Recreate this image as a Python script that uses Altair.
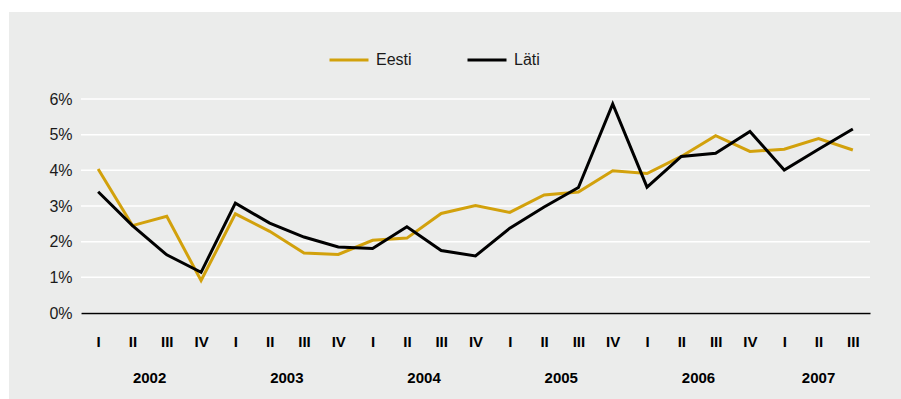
import json
import altair as alt
import pandas as pd

years = ["2002", "2003", "2004", "2005", "2006", "2007"]
quarter_names = ["I", "II", "III", "IV"]
periods = [(y, q) for y in years for q in quarter_names][:23]  # up to 2007 III

eesti = [4.04, 2.45, 2.71, 0.91,
         2.78, 2.29, 1.68, 1.64,
         2.04, 2.10, 2.79, 3.01,
         2.82, 3.31, 3.39, 3.99,
         3.91, 4.39, 4.97, 4.53,
         4.59, 4.89, 4.57]
lati = [3.40, 2.45, 1.63, 1.14,
        3.08, 2.52, 2.13, 1.85,
        1.81, 2.42, 1.75, 1.60,
        2.38, 2.97, 3.52, 5.86,
        3.53, 4.39, 4.48, 5.09,
        4.01, 4.59, 5.16]
series_names = ["Eesti", "Läti"]
series_colors = ["#d2a10c", "#000000"]
y_ticks = [0, 1, 2, 3, 4, 5, 6]

rows = []
for name, vals in zip(series_names, [eesti, lati]):
    for i, ((yr, q), v) in enumerate(zip(periods, vals)):
        rows.append({"idx": i, "year": yr, "quarter": q, "value": v, "series": name})
df = pd.DataFrame(rows)
year_df = df[df["series"] == series_names[0]][["idx", "year"]]
grid_df = pd.DataFrame({"tick": y_ticks})

tick_labels = [q for _, q in periods]
label_expr = json.dumps(tick_labels) + "[datum.value]"

FONT = "Liberation Sans"
W, H = 789, 214
BG = "#ebeceb"

xscale = alt.Scale(domain=[-0.5, len(periods) - 0.5], nice=False, zero=False)
yscale = alt.Scale(domain=[0, 6], nice=False)

x_axis = alt.Axis(values=list(range(len(periods))), labelExpr=label_expr,
                  grid=False, ticks=False, domain=True, domainColor="#000000",
                  domainWidth=1.3, labelFont=FONT, labelFontSize=15,
                  labelFontWeight="bold", labelColor="#000000",
                  labelPadding=21, labelFlush=False, labelOverlap=False,
                  labelBound=False, title=None, zindex=1)
y_axis = alt.Axis(values=y_ticks, labelExpr="datum.value + '%'",
                  grid=False, domain=False, ticks=False, labelFont=FONT,
                  labelFontSize=16, labelColor="#1a1a1a", labelPadding=9,
                  labelOverlap=False, labelFlush=False, title=None, zindex=1)

background = alt.Chart(alt.Data(values=[{}])).mark_rect(fill=BG).encode(
    x=alt.value(-72), x2=alt.value(W + 31),
    y=alt.value(-87), y2=alt.value(H + 86),
)

grid = alt.Chart(grid_df).mark_rule(color="#ffffff", strokeWidth=1.5).encode(
    y=alt.Y("tick:Q", scale=yscale, axis=y_axis),
)

lines = alt.Chart(df).mark_line(strokeWidth=3, strokeJoin="miter").encode(
    x=alt.X("idx:Q", scale=xscale, axis=x_axis),
    y=alt.Y("value:Q", scale=yscale, axis=y_axis),
    color=alt.Color("series:N",
                    scale=alt.Scale(domain=series_names, range=series_colors),
                    legend=alt.Legend(title=None, orient="none", direction="horizontal",
                                      legendX=247, legendY=-60, symbolType="stroke",
                                      symbolSize=1521, symbolStrokeWidth=3,
                                      labelFont=FONT, labelFontSize=16,
                                      labelColor="#1a1a1a", labelOffset=6,
                                      columnPadding=49, padding=0)),
    order="idx:Q",
)

year_text = alt.Chart(year_df).mark_text(
    font=FONT, fontSize=15, fontWeight="bold", color="#000000", baseline="middle"
).encode(
    x=alt.X("mean(idx):Q", scale=xscale, axis=x_axis),
    y=alt.value(H + 65),
    text="year:N",
)

chart = alt.layer(background, grid, lines, year_text).properties(
    width=W, height=H,
    padding={"left": 81, "top": 99, "right": 31, "bottom": 86},
    autosize=alt.AutoSizeParams(type="none"),
    background="#ffffff",
).configure_view(stroke=None)

chart.save("out.html", embed_options={"renderer": "svg", "actions": False})
